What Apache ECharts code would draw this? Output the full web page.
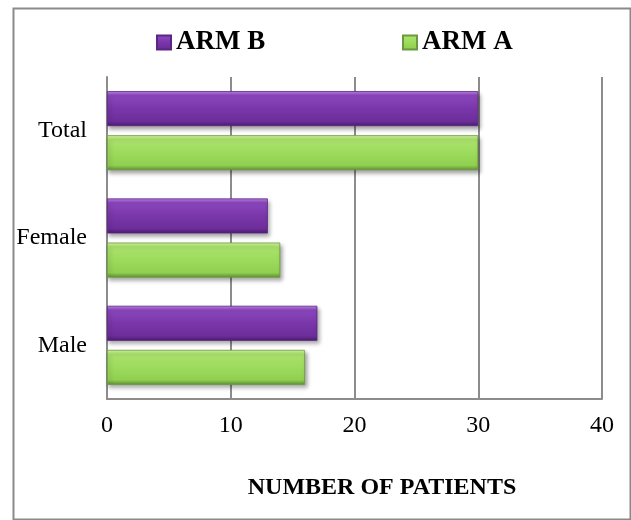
<!DOCTYPE html>
<html>
<head>
<meta charset="utf-8">
<style>
  html, body { margin: 0; padding: 0; background: #ffffff; }
  #chart { width: 631px; height: 520px; }
</style>
<script src="https://cdn.jsdelivr.net/npm/echarts@6/dist/echarts.min.js"></script>
</head>
<body>
<div id="chart"></div>
<script>
// Patient counts per group for each study arm
const categories = ['Male', 'Female', 'Total'];
const armB = [17, 13, 30];
const armA = [16, 14, 30];
const xTicks = [0, 10, 20, 30, 40];
const seriesNames = ['ARM B', 'ARM A'];
const axisTitle = 'NUMBER OF PATIENTS';

const serif = '"Liberation Serif", "Times New Roman", serif';

// Bevel-like vertical shading for each bar
function shade(stops) {
  return new echarts.graphic.LinearGradient(0, 0, 0, 1,
    stops.map((c, i) => ({ offset: [0, 0.12, 0.5, 0.86, 1][i], color: c })));
}
const purple = shade(['#c286ea', '#8c47be', '#7936a9', '#6d2e9b', '#4b1c6e']);
const green = shade(['#d6f7a0', '#abe26d', '#9ddb5c', '#90cf4f', '#5e8e34']);

const barShadow = {
  shadowColor: 'rgba(0,0,0,0.35)',
  shadowBlur: 4,
  shadowOffsetX: 2,
  shadowOffsetY: 3
};

const chart = echarts.init(document.getElementById('chart'), null, { renderer: 'canvas' });

const legendText = { fontFamily: serif, fontSize: 27, fontWeight: 'bold', color: '#000' };

chart.setOption({
  animation: false,
  backgroundColor: '#ffffff',
  graphic: [
    {
      type: 'rect',
      left: 11, top: 6,
      shape: { x: 0, y: 0, width: 617, height: 511 },
      style: { fill: 'none', stroke: '#8a8a8a', lineWidth: 2 },
      silent: true
    },
    {
      type: 'text',
      x: 382, y: 488,
      style: {
        text: axisTitle,
        fontFamily: serif, fontSize: 24, fontWeight: 'bold',
        fill: '#000', align: 'center', verticalAlign: 'middle'
      },
      silent: true
    }
  ],
  legend: [
    {
      data: [seriesNames[0]],
      left: 151, top: 24,
      icon: 'rect', itemWidth: 14, itemHeight: 14,
      textStyle: legendText
    },
    {
      data: [seriesNames[1]],
      left: 397, top: 24,
      icon: 'rect', itemWidth: 14, itemHeight: 14,
      textStyle: legendText
    }
  ],
  grid: { left: 107, right: 29, top: 77, bottom: 121, containLabel: false },
  xAxis: {
    type: 'value',
    min: xTicks[0],
    max: xTicks[xTicks.length - 1],
    interval: xTicks[1] - xTicks[0],
    axisLine: { show: true, lineStyle: { color: '#8c8c8c', width: 2 } },
    axisTick: { show: false },
    splitLine: { show: true, lineStyle: { color: '#8c8c8c', width: 2 } },
    axisLabel: { fontFamily: serif, fontSize: 24, color: '#000', margin: 15 }
  },
  yAxis: {
    type: 'category',
    data: categories,
    axisLine: { show: true, lineStyle: { color: '#8c8c8c', width: 2 } },
    axisTick: { show: false },
    axisLabel: { fontFamily: serif, fontSize: 24, color: '#000', margin: 20 }
  },
  series: [
    {
      name: seriesNames[0],
      type: 'bar',
      data: armB,
      barWidth: 35,
      barGap: '26%',
      itemStyle: Object.assign({ color: purple, borderColor: '#5c2585', borderWidth: 0.8 }, barShadow)
    },
    {
      name: seriesNames[1],
      type: 'bar',
      data: armA,
      barWidth: 35,
      barGap: '26%',
      itemStyle: Object.assign({ color: green, borderColor: '#6b9a3e', borderWidth: 0.8 }, barShadow)
    }
  ]
});
</script>
</body>
</html>
